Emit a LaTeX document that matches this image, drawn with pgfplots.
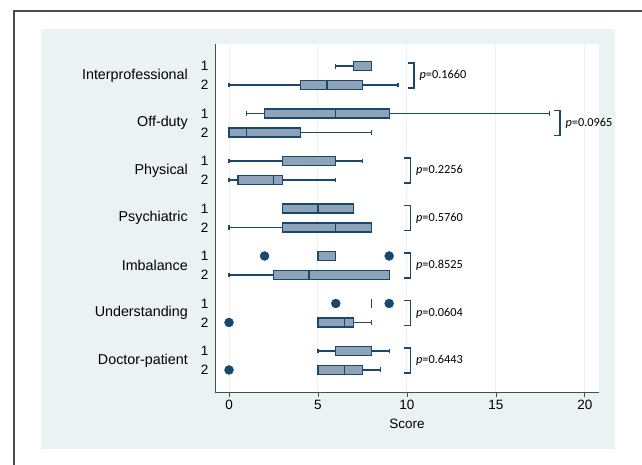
\documentclass[border=0pt]{standalone}
\usepackage{fontspec}
\setmainfont{Liberation Sans}
\newfontfamily\pfont{Carlito}
\usepackage{pgfplots}
\pgfplotsset{compat=1.18}
\usepgfplotslibrary{statistics}
\definecolor{navy}{RGB}{26,71,111}
\definecolor{boxfill}{RGB}{142,163,184}
\definecolor{bgpanel}{RGB}{234,242,243}
\begin{document}
\begin{tikzpicture}[x=1pt,y=1pt]
\useasboundingbox (0,0) rectangle (642,464);
\fill[bgpanel] (41,15) rectangle (615,435);
\draw[line width=1.2pt, black!70] (14,-20) rectangle (680,453);
\begin{axis}[
  at={(215pt,72pt)}, anchor=south west,
  scale only axis, width=384pt, height=348pt,
  xmin=-0.787, xmax=20.79, ymin=-17.16, ymax=1.16,
  axis background/.style={fill=white},
  axis x line*=bottom, axis y line*=left,
  axis line style={black!70, line width=0.9pt},
  xtick={0,5,10,15,20},
  tick align=outside,
  x tick style={black!70, line width=0.9pt},
  xmajorgrids, major grid style={bgpanel, line width=1pt},
  major tick length=5pt,
  ytick={0,-1,-2.5,-3.5,-5,-6,-7.5,-8.5,-10,-11,-12.5,-13.5,-15,-16},
  yticklabels={1,2,1,2,1,2,1,2,1,2,1,2,1,2},
  y tick style={draw=none},
  ytick style={draw=none},
  yticklabel style={xshift=2pt},
  /pgf/number format/assume math mode=true,
  ticklabel style={font=\fontsize{13.5}{15}\selectfont},
  xlabel={Score},
  xlabel style={font=\fontsize{13.5}{15}\selectfont, yshift=-2pt},
  boxplot/draw direction=x,
  boxplot/box extend=0.47,
  boxplot/whisker extend=0.26,
  clip=false,
]
\pgfplotsset{
  mybox/.style={solid, mark=none, fill=boxfill, draw=navy, line width=1.3pt},
}
% Interprofessional
\addplot[mybox, boxplot prepared={draw position=0, lower whisker=6, lower quartile=7, median=8, upper quartile=8, upper whisker=8}] coordinates {};
\addplot[mybox, boxplot prepared={draw position=-1, lower whisker=0, lower quartile=4, median=5.5, upper quartile=7.5, upper whisker=9.5}] coordinates {};
% Off-duty
\addplot[mybox, boxplot prepared={draw position=-2.5, lower whisker=1, lower quartile=2, median=6, upper quartile=9, upper whisker=18}] coordinates {};
\addplot[mybox, boxplot prepared={draw position=-3.5, lower whisker=0, lower quartile=0, median=1, upper quartile=4, upper whisker=8}] coordinates {};
% Physical
\addplot[mybox, boxplot prepared={draw position=-5, lower whisker=0, lower quartile=3, median=6, upper quartile=6, upper whisker=7.5}] coordinates {};
\addplot[mybox, boxplot prepared={draw position=-6, lower whisker=0, lower quartile=0.5, median=2.5, upper quartile=3, upper whisker=6}] coordinates {};
% Psychiatric
\addplot[mybox, boxplot prepared={draw position=-7.5, lower whisker=3, lower quartile=3, median=5, upper quartile=7, upper whisker=7}] coordinates {};
\addplot[mybox, boxplot prepared={draw position=-8.5, lower whisker=0, lower quartile=3, median=6, upper quartile=8, upper whisker=8}] coordinates {};
% Imbalance
\addplot[mybox, boxplot prepared={draw position=-10, lower whisker=5, lower quartile=5, median=5, upper quartile=6, upper whisker=6}] coordinates {};
\addplot[mybox, boxplot prepared={draw position=-11, lower whisker=0, lower quartile=2.5, median=4.5, upper quartile=9, upper whisker=9}] coordinates {};
% Understanding
\addplot[mybox, boxplot prepared={draw position=-12.5, lower whisker=8, lower quartile=8, median=8, upper quartile=8, upper whisker=8}] coordinates {};
\addplot[mybox, boxplot prepared={draw position=-13.5, lower whisker=5, lower quartile=5, median=6.5, upper quartile=7, upper whisker=8}] coordinates {};
% Doctor-patient
\addplot[mybox, boxplot prepared={draw position=-15, lower whisker=5, lower quartile=6, median=8, upper quartile=8, upper whisker=9}] coordinates {};
\addplot[mybox, boxplot prepared={draw position=-16, lower whisker=5, lower quartile=5, median=6.5, upper quartile=7.5, upper whisker=8.5}] coordinates {};
% outliers
\addplot[only marks, mark=*, mark size=4.5pt, navy] coordinates {(2,-10) (9,-10) (6,-12.5) (9,-12.5) (0,-13.5) (0,-16)};
% group labels
\foreach \lab [count=\i from 0] in {Interprofessional,Off-duty,Physical,Psychiatric,Imbalance,Understanding,Doctor-patient}{
  \edef\temp{\noexpand\node[anchor=east, inner sep=0pt, font=\noexpand\fontsize{14.3}{16}\noexpand\selectfont] at (axis cs:-0.787,{-2.5*\i-0.5}) [xshift=-27pt] {\lab};}
  \temp
}
% brackets and p-values
\foreach \xb/\g/\pv in {10.4/0/0.1660, 18.6/1/0.0965, 10.2/2/0.2256, 10.2/3/0.5760, 10.2/4/0.8525, 10.2/5/0.0604, 10.2/6/0.6443}{
  \edef\temp{\noexpand\draw[navy, line width=1.3pt] (axis cs:\xb-0.35,{-2.5*\g+0.16}) -- (axis cs:\xb,{-2.5*\g+0.16}) -- (axis cs:\xb,{-2.5*\g-1.16}) -- (axis cs:\xb-0.35,{-2.5*\g-1.16});
  \noexpand\node[anchor=west, inner sep=0pt, font=\noexpand\pfont\noexpand\fontsize{12.3}{14}\noexpand\selectfont] at (axis cs:\xb+0.3,{-2.5*\g-0.5}) {\noexpand\textit{p}=\pv};}
  \temp
}
\end{axis}
\end{tikzpicture}
\end{document}
